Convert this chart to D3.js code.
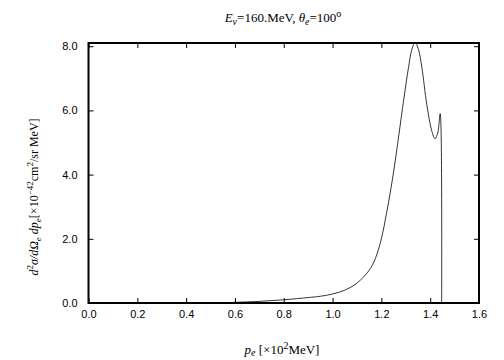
<!DOCTYPE html>
<html>
<head>
<meta charset="utf-8">
<script src="https://cdn.jsdelivr.net/npm/d3@7"></script>
<style>
  body { margin: 0; background: #fff; }
  svg { display: block; }
  .tick-label { font-family: "Liberation Sans", Arial, sans-serif; font-size: 11px; fill: #000; }
  .serif { font-family: "Liberation Serif", "Times New Roman", serif; font-size: 13px; fill: #000; }
</style>
</head>
<body>
<div id="chart"></div>
<script>
// electron momentum p_e [x10^2 MeV] and cross section [x10^-42 cm^2/sr MeV]
const momentum = [0.55, 0.6, 0.7, 0.8, 0.9, 0.95, 1.0, 1.05, 1.1, 1.15, 1.175, 1.2, 1.22, 1.24,
  1.26, 1.29, 1.311, 1.325, 1.338, 1.352, 1.366, 1.386, 1.407, 1.42, 1.431, 1.441, 1.447];
const crossSection = [0.0, 0.02, 0.05, 0.1, 0.17, 0.21, 0.28, 0.4, 0.62, 1.02, 1.38, 2.0, 2.75, 3.6,
  4.6, 6.25, 7.33, 7.9, 8.12, 7.9, 7.33, 6.19, 5.35, 5.12, 5.3, 5.9, 0.0];

const xTicks = [0.0, 0.2, 0.4, 0.6, 0.8, 1.0, 1.2, 1.4, 1.6];
const yTicks = [0.0, 2.0, 4.0, 6.0, 8.0];

const W = 504, H = 360;
const margin = { top: 43, right: 25, bottom: 57, left: 88.5 };
const iw = W - margin.left - margin.right;
const ih = H - margin.top - margin.bottom;

const svg = d3.select("#chart").append("svg").attr("width", W).attr("height", H);
const g = svg.append("g").attr("transform", `translate(${margin.left},${margin.top})`);

const x = d3.scaleLinear().domain([0, 1.6]).range([0, iw]);
const y = d3.scaleLinear().domain([0, 8.1]).range([ih, 0]);

const data = momentum.map((p, i) => ({ p, v: crossSection[i] }));

// curve
const line = d3.line().x(d => x(d.p)).y(d => y(d.v)).curve(d3.curveCatmullRom.alpha(0.5));
g.append("path")
  .datum(data)
  .attr("fill", "none")
  .attr("stroke", "#000")
  .attr("stroke-width", 0.8)
  .attr("d", line);

// axes, ticks pointing inward, mirrored on opposite sides
const fmt = d3.format(".1f");
const axBottom = g.append("g").attr("transform", `translate(0,${ih})`)
  .call(d3.axisBottom(x).tickValues(xTicks).tickSize(-5).tickPadding(7).tickFormat(fmt));
const axTop = g.append("g")
  .call(d3.axisTop(x).tickValues(xTicks).tickSize(-5).tickFormat(""));
const axLeft = g.append("g")
  .call(d3.axisLeft(y).tickValues(yTicks).tickSize(-5).tickPadding(11).tickFormat(fmt));
const axRight = g.append("g").attr("transform", `translate(${iw},0)`)
  .call(d3.axisRight(y).tickValues(yTicks).tickSize(-5).tickFormat(""));

[axBottom, axTop, axLeft, axRight].forEach(a => {
  a.select(".domain").remove();
  a.attr("font-family", null).attr("font-size", null);
  a.selectAll(".tick line").attr("stroke", "#000").attr("stroke-width", 1);
  a.selectAll(".tick text").attr("class", "tick-label");
});

// frame
g.append("rect")
  .attr("width", iw).attr("height", ih)
  .attr("fill", "none").attr("stroke", "#000").attr("stroke-width", 2);

// title
const title = svg.append("text").attr("class", "serif")
  .attr("x", 283).attr("y", 22).attr("text-anchor", "middle");
title.append("tspan").attr("font-style", "italic").text("E");
title.append("tspan").attr("font-style", "italic").attr("font-size", 10).attr("dy", 3).text("ν");
title.append("tspan").attr("dy", -3).text("=160.MeV,  ");
title.append("tspan").attr("font-style", "italic").text("θ");
title.append("tspan").attr("font-style", "italic").attr("font-size", 10).attr("dy", 3).text("e");
title.append("tspan").attr("dy", -3).text("=100");
title.append("tspan").attr("font-size", 10).attr("dy", -5).text("o");

// x label
const xl = svg.append("text").attr("class", "serif")
  .attr("x", 282).attr("y", 354).attr("text-anchor", "middle");
xl.append("tspan").attr("font-style", "italic").text("p");
xl.append("tspan").attr("font-style", "italic").attr("font-size", 10).attr("dy", 2).text("e");
xl.append("tspan").attr("dy", -2).text(" [×10");
xl.append("tspan").attr("font-size", 10).attr("dy", -5).text("2");
xl.append("tspan").attr("dy", 5).text("MeV]");

// y label
const yl = svg.append("text").attr("class", "serif")
  .style("font-size", "12px")
  .attr("transform", "translate(38,197) rotate(-90)").attr("text-anchor", "middle");
yl.append("tspan").attr("font-style", "italic").text("d");
yl.append("tspan").attr("font-size", 9).attr("dy", -5).text("2");
yl.append("tspan").attr("font-style", "italic").attr("dy", 5).text("σ/dΩ");
yl.append("tspan").attr("font-style", "italic").attr("font-size", 9).attr("dy", 3).text("e");
yl.append("tspan").attr("font-style", "italic").attr("dy", -3).text(" dp");
yl.append("tspan").attr("font-style", "italic").attr("font-size", 9).attr("dy", 3).text("e");
yl.append("tspan").attr("dy", -3).text("[×10");
yl.append("tspan").attr("font-size", 9).attr("dy", -5).text("−42");
yl.append("tspan").attr("dy", 5).text("cm");
yl.append("tspan").attr("font-size", 9).attr("dy", -5).text("2");
yl.append("tspan").attr("dy", 5).text("/sr MeV]");
</script>
</body>
</html>
